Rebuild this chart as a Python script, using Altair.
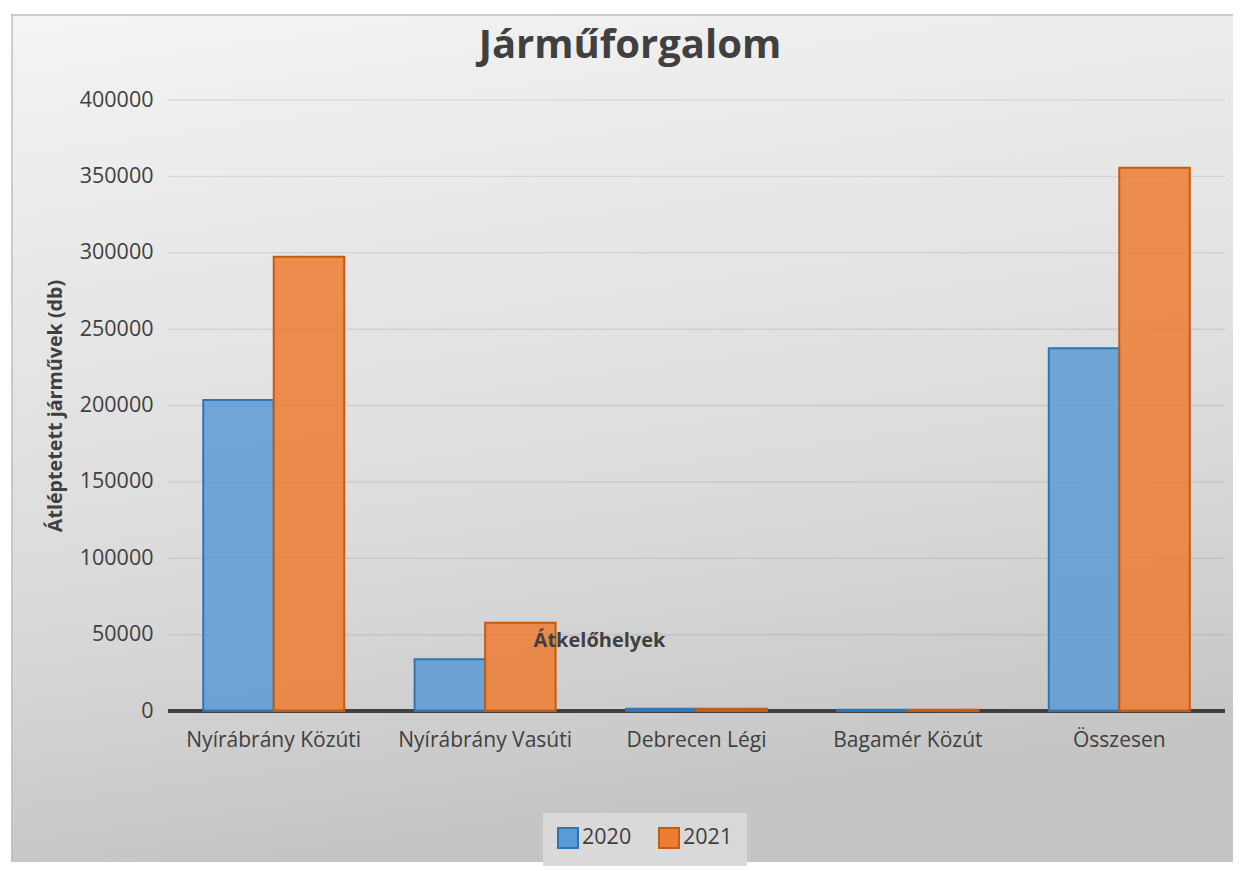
import altair as alt
import pandas as pd

categories = ["Nyírábrány Közúti", "Nyírábrány Vasúti", "Debrecen Légi", "Bagamér Közút", "Összesen"]
years = ["2020", "2021"]
values_2020 = [203600, 33800, 1500, 900, 237500]
values_2021 = [297400, 57800, 1500, 900, 355700]
y_ticks = [0, 50000, 100000, 150000, 200000, 250000, 300000, 350000, 400000]

rows = []
for c, a, b in zip(categories, values_2020, values_2021):
    rows.append({"cat": c, "year": "2020", "v": a})
    rows.append({"cat": c, "year": "2021", "v": b})
df = pd.DataFrame(rows)
grid_df = pd.DataFrame({"t": y_ticks[1:]})
one = pd.DataFrame({"k": [0]})

W, H = 1057, 611
FONT = "Open Sans"
TXT = "#404040"

gradient = {
    "gradient": "linear",
    "x1": 0, "y1": 0, "x2": 0.2, "y2": 1,
    "stops": [
        {"offset": 0, "color": "#f4f4f4"},
        {"offset": 0.7, "color": "#d9d9d9"},
        {"offset": 1, "color": "#c5c5c5"},
    ],
}

bg = alt.Chart(one).mark_rect(fill=gradient, strokeWidth=0).encode(
    x=alt.value(-157), x2=alt.value(1065), y=alt.value(-86), y2=alt.value(762)
)
border_left = alt.Chart(one).mark_rule(color="#c0c0c0", strokeWidth=1.5).encode(
    x=alt.value(-156), y=alt.value(-86), y2=alt.value(762)
)
border_top = alt.Chart(one).mark_rule(color="#c0c0c0", strokeWidth=1.5).encode(
    x=alt.value(-157), x2=alt.value(1065), y=alt.value(-85)
)

grid = alt.Chart(grid_df).mark_rule(color="#000000", opacity=0.08, strokeWidth=1.5).encode(
    y=alt.Y("t:Q", scale=alt.Scale(domain=[0, 400000]))
)

baseline = alt.Chart(pd.DataFrame({"t": [0]})).mark_rule(color="#404040", strokeWidth=4).encode(
    y=alt.Y("t:Q", scale=alt.Scale(domain=[0, 400000]))
)

legend_kw = dict(
    title=None,
    orient="none",
    legendX=375,
    legendY=713,
    direction="horizontal",
    symbolType="square",
    symbolSize=400,
    symbolStrokeWidth=2,
    labelFont=FONT,
    labelFontSize=21.5,
    labelColor=TXT,
    labelOffset=3,
    columnPadding=23,
    padding=14,
    fillColor="#d9d9d9",
    zindex=1,
)

bars = alt.Chart(df).mark_bar(fillOpacity=0.85, strokeWidth=2).encode(
    x=alt.X(
        "cat:N",
        sort=categories,
        scale=alt.Scale(paddingInner=0.333, paddingOuter=0.1667),
        axis=alt.Axis(
            title="Átkelőhelyek",
            titleX=431,
            titleY=-71,
            titleBaseline="middle",
            titleFont=FONT,
            titleFontSize=20,
            titleFontWeight="bold",
            titleColor=TXT,
            labelFont=FONT,
            labelFontSize=21,
            labelColor=TXT,
            labelPadding=18,
            labelAngle=0,
            domain=False,
            ticks=False,
            grid=False,
            zindex=1,
        ),
    ),
    xOffset=alt.XOffset("year:N", sort=years),
    y=alt.Y(
        "v:Q",
        scale=alt.Scale(domain=[0, 400000]),
        axis=alt.Axis(
            title="Átléptetett járművek (db)",
            titleFont=FONT,
            titleFontSize=19.7,
            titleFontWeight="bold",
            titleColor=TXT,
            titlePadding=14,
            values=y_ticks,
            format="d",
            labelFont=FONT,
            labelFontSize=21.5,
            labelColor=TXT,
            labelPadding=15,
            domain=False,
            ticks=False,
            grid=False,
            zindex=1,
        ),
    ),
    fill=alt.Fill(
        "year:N",
        sort=years,
        scale=alt.Scale(domain=years, range=["#5b9bd5", "#ed7d31"]),
        legend=alt.Legend(**legend_kw),
    ),
    stroke=alt.Stroke(
        "year:N",
        sort=years,
        scale=alt.Scale(domain=years, range=["#2e75b6", "#c55a11"]),
        legend=alt.Legend(**legend_kw),
    ),
)

chart = alt.layer(bg, border_left, border_top, grid, baseline, bars).properties(
    width=W,
    height=H,
    padding={"left": 2, "top": 5, "right": 0, "bottom": 0},
    title=alt.TitleParams(
        text="Járműforgalom",
        font=FONT,
        fontSize=40,
        fontWeight="bold",
        color=TXT,
        anchor="middle",
        frame="bounds",
        offset=-53,
        dx=8,
        zindex=1,
    ),
).configure_view(stroke=None).configure(background="white")

chart.save("out.html", embed_options={"renderer": "svg", "actions": False})
